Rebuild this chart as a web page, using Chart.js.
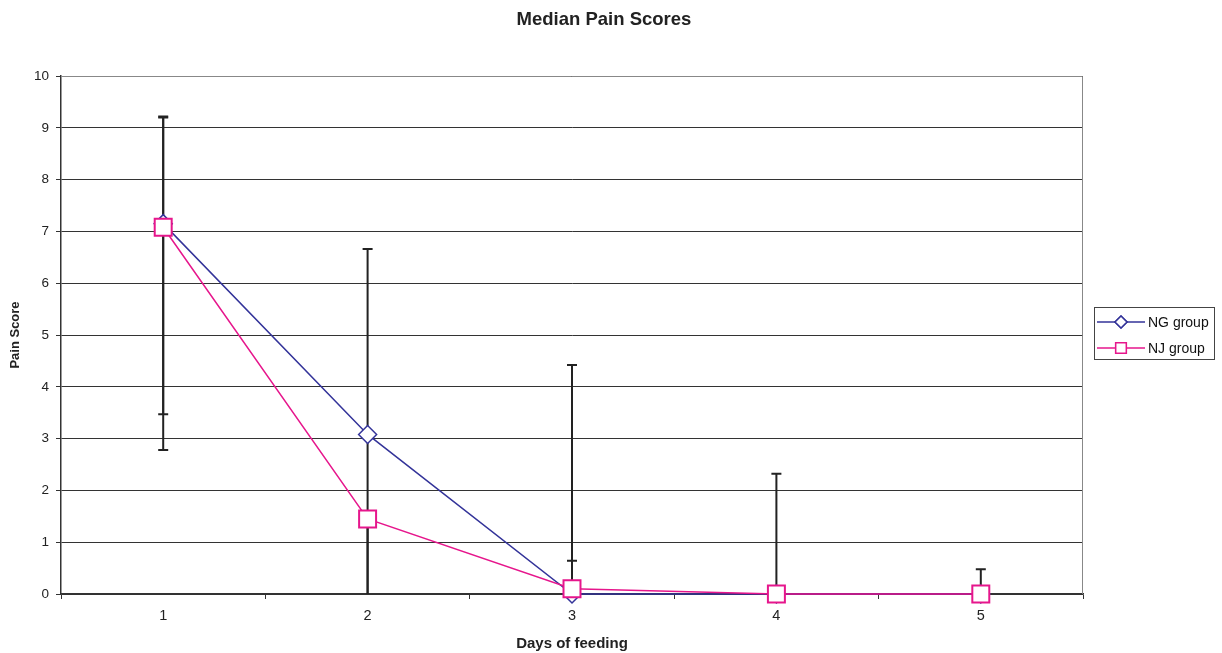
<!DOCTYPE html>
<html>
<head>
<meta charset="utf-8">
<script src="https://cdn.jsdelivr.net/npm/chart.js@4/dist/chart.umd.min.js"></script>
<style>
  html, body { margin: 0; padding: 0; background: #fff; }
  #wrap { width: 1222px; height: 653px; position: relative; }
</style>
</head>
<body>
<div id="wrap"><canvas id="chart"></canvas></div>
<script>
// data
const days = ['1', '2', '3', '4', '5'];
const ngValues = [7.15, 3.08, 0, 0, 0];
const njValues = [7.08, 1.45, 0.1, 0, 0];
// error bar ends (high / low) for each group
const ngHigh = [9.22, 6.66, 4.42, 2.32, 0.48];
const ngLow = [3.47, 0, 0, 0, 0];
const njHigh = [9.2, 1.45, 0.64, 0, 0];
const njLow = [2.78, 0, 0, 0, 0];

const NG_COLOR = '#333399';
const NJ_COLOR = '#e6168c';
const FONT = '"Liberation Sans", Arial, sans-serif';

// error bars go behind the lines and markers
const errorBars = {
    id: 'errorBars',
    beforeDatasetsDraw(chart) {
        const ctx = chart.ctx;
        const x = chart.scales.x, y = chart.scales.y;
        const sets = [[ngHigh, ngLow], [njHigh, njLow]];
        ctx.save();
        ctx.strokeStyle = '#222';
        ctx.lineWidth = 2;
        sets.forEach(([hi, lo]) => {
            hi.forEach((h, i) => {
                const px = x.getPixelForValue(i);
                const yt = y.getPixelForValue(h);
                const yb = y.getPixelForValue(lo[i]);
                ctx.beginPath();
                ctx.moveTo(px, yt); ctx.lineTo(px, yb);
                if (h > 0) { ctx.moveTo(px - 5, yt); ctx.lineTo(px + 5, yt); }
                if (lo[i] > 0) { ctx.moveTo(px - 5, yb); ctx.lineTo(px + 5, yb); }
                ctx.stroke();
            });
        });
        ctx.restore();
    },
    afterDraw(chart) {
        // plot frame (top and right)
        const ctx = chart.ctx;
        const a = chart.chartArea;
        ctx.save();
        ctx.strokeStyle = '#888';
        ctx.lineWidth = 1;
        ctx.beginPath();
        ctx.moveTo(a.left, a.top + 0.5);
        ctx.lineTo(a.right - 0.5, a.top + 0.5);
        ctx.lineTo(a.right - 0.5, a.bottom);
        ctx.stroke();

        // legend box
        ctx.strokeStyle = '#444';
        ctx.strokeRect(1094.5, 307.5, 120, 52);
        ctx.font = '14px ' + FONT;
        ctx.textBaseline = 'middle';
        chart.data.datasets.forEach((ds, i) => {
            const cy = 322 + i * 26;
            ctx.strokeStyle = ds.borderColor;
            ctx.lineWidth = 1.5;
            ctx.beginPath();
            ctx.moveTo(1097, cy); ctx.lineTo(1145, cy);
            ctx.stroke();
            Chart.helpers.drawPoint(ctx, {
                pointStyle: ds.pointStyle, radius: i === 0 ? 6 : 7.5, rotation: 0, borderWidth: 1.5
            }, 1121, cy);
            ctx.fillStyle = '#fff';
            ctx.fill();
            ctx.stroke();
            ctx.fillStyle = '#111';
            ctx.fillText(ds.label, 1148, cy + 1);
        });
        ctx.restore();
    }
};

new Chart(document.getElementById('chart'), {
    type: 'line',
    data: {
        labels: days,
        datasets: [
            {
                label: 'NG group', data: ngValues, order: 1, clip: false,
                borderColor: NG_COLOR, backgroundColor: '#fff', borderWidth: 1.5,
                pointStyle: 'rectRot', pointRadius: 9, pointBorderWidth: 1.5,
                pointBackgroundColor: '#fff', tension: 0
            },
            {
                label: 'NJ group', data: njValues, order: 0, clip: false,
                borderColor: NJ_COLOR, backgroundColor: '#fff', borderWidth: 1.5,
                pointStyle: 'rect', pointRadius: 12, pointBorderWidth: 2,
                pointBackgroundColor: '#fff', tension: 0
            }
        ]
    },
    options: {
        responsive: true,
        maintainAspectRatio: false,
        animation: false,
        layout: { padding: { left: 0, right: 14, top: 0, bottom: 0 } },
        plugins: {
            legend: { display: false },
            tooltip: { enabled: false },
            title: {
                display: true, text: 'Median Pain Scores', color: '#222',
                font: { family: FONT, size: 18.5, weight: 'bold' },
                padding: { top: 9, bottom: 44.8 }
            }
        },
        scales: {
            x: {
                offset: true,
                grid: { offset: true, drawOnChartArea: false, drawTicks: true, tickLength: 5, color: '#333', lineWidth: 1 },
                border: { color: '#333', width: 1.5 },
                ticks: { color: '#222', padding: 8, font: { family: FONT, size: 14.5 } },
                title: {
                    display: true, text: 'Days of feeding', color: '#222',
                    font: { family: FONT, size: 15, weight: 'bold' },
                    padding: { top: 4, bottom: 0 }
                },
                afterFit(scale) { scale.height = 59; }
            },
            y: {
                min: 0, max: 10,
                ticks: { stepSize: 1, color: '#222', padding: 7, font: { family: FONT, size: 13.5 } },
                grid: { color: '#333', lineWidth: 1, tickLength: 5 },
                border: { color: '#333', width: 1.5 },
                title: {
                    display: true, text: 'Pain Score', color: '#222',
                    font: { family: FONT, size: 13, weight: 'bold' },
                    padding: { top: 8, bottom: 0 }
                },
                afterFit(scale) { scale.width = 61; }
            },
            // empty right-hand axis that keeps room for the legend
            spacer: {
                type: 'linear', position: 'right', display: true,
                grid: { display: false }, border: { display: false },
                ticks: { display: false },
                afterFit(scale) { scale.width = 125; }
            }
        }
    },
    plugins: [errorBars]
});
</script>
</body>
</html>
